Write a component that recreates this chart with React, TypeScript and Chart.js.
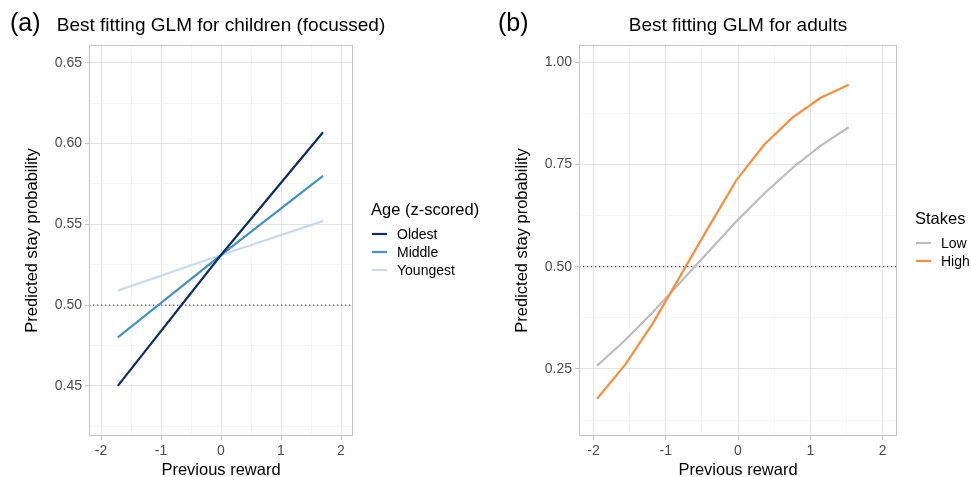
import React, { useEffect, useRef } from "react";
import { Chart, registerables } from "chart.js";

Chart.register(...registerables);

const FONT = '"Liberation Sans", Arial, Helvetica, sans-serif';

// ---------- Panel (a): children ----------
const childX = [-1.72, 0, 1.7];
const oldest = [0.45, 0.531, 0.607];
const middle = [0.48, 0.531, 0.58];
const youngest = [0.509, 0.531, 0.552];
const childYTicks = [0.45, 0.5, 0.55, 0.6, 0.65];
const childYRange = [0.419, 0.661];

// ---------- Panel (b): adults ----------
const adultX = [-1.95, -1.563, -1.176, -0.79, -0.403, -0.016, 0.371, 0.758, 1.145, 1.532];
const lowStakes = [0.258, 0.32, 0.389, 0.463, 0.538, 0.612, 0.68, 0.742, 0.796, 0.841];
const highStakes = [0.177, 0.26, 0.362, 0.48, 0.598, 0.713, 0.8, 0.865, 0.913, 0.945];
const adultYTicks = [0.25, 0.5, 0.75, 1.0];
const adultYRange = [0.086, 1.042];

// ---------- shared ----------
const rewardTicks = [-2, -1, 0, 1, 2];
const rewardRange = [-2.2, 2.2];
const chanceLevel = 0.5;

const COLORS = {
  oldest: "#0b2d69",
  middle: "#4292c6",
  youngest: "#c6dbef",
  low: "#bdbdbd",
  high: "#fd8d3c",
};

function withMinors(majors: number[], range: number[]) {
  const step = majors[1] - majors[0];
  const out: number[] = [];
  const first = majors[0] - step / 2;
  if (first >= range[0]) out.push(first);
  majors.forEach((m, i) => {
    out.push(m);
    const mid = m + step / 2;
    if (i < majors.length - 1 || mid <= range[1]) out.push(mid);
  });
  return out.filter((v) => v >= range[0] && v <= range[1]);
}

function isIn(list: number[], v: number) {
  return list.some((m) => Math.abs(m - v) < 1e-9);
}

function axis(o: {
  horizontal: boolean;
  majors: number[];
  range: number[];
  fmt: (v: number) => string;
  title: string;
  size: number;
}) {
  const all = withMinors(o.majors, o.range);
  return {
    type: "linear",
    position: o.horizontal ? "bottom" : "left",
    min: o.range[0],
    max: o.range[1],
    afterBuildTicks: (s: any) => {
      s.ticks = all.map((v) => ({ value: v }));
    },
    afterFit: (s: any) => {
      if (o.horizontal) s.height = o.size;
      else s.width = o.size;
    },
    ticks: {
      autoSkip: false,
      maxRotation: 0,
      minRotation: 0,
      padding: 3,
      color: "#4d4d4d",
      font: { family: FONT, size: 14 },
      callback: (v: number) => (isIn(o.majors, v) ? o.fmt(v) : ""),
    },
    grid: {
      drawTicks: true,
      tickLength: 4,
      lineWidth: (c: any) => (c.tick && isIn(o.majors, c.tick.value) ? 1 : 0.8),
      color: (c: any) => (c.tick && isIn(o.majors, c.tick.value) ? "#e4e4e4" : "#f2f2f2"),
      tickColor: (c: any) => (c.tick && isIn(o.majors, c.tick.value) ? "#c8c8c8" : "rgba(0,0,0,0)"),
    },
    border: { display: false },
    title: {
      display: true,
      text: o.title,
      color: "#000",
      font: { family: FONT, size: 16.5, lineHeight: 1 },
      padding: o.horizontal ? { top: 0, bottom: -2 } : { top: 24, bottom: 0 },
    },
  };
}

function lineSet(label: string, xs: number[], ys: number[], color: string, order: number) {
  return {
    label,
    data: xs.map((x, i) => ({ x, y: ys[i] })),
    borderColor: color,
    backgroundColor: color,
    borderWidth: 2.2,
    pointRadius: 0,
    tension: 0,
    borderJoinStyle: "round",
    order,
  };
}

function chanceSet() {
  return {
    label: "chance",
    data: rewardRange.map((x) => ({ x, y: chanceLevel })),
    borderColor: "#555555",
    borderWidth: 1.2,
    borderDash: [1.3, 2.7],
    pointRadius: 0,
    order: 10,
  };
}

type Leg = { title: string; items: { label: string; color: string }[]; x: number; titleY: number; rowY: number[] };

function decor(tag: string, tagX: number, title: string, leg: Leg) {
  return {
    id: "decor",
    afterDraw(chart: any) {
      const { ctx, chartArea: ca } = chart;
      ctx.save();
      ctx.strokeStyle = "#c4c4c4";
      ctx.lineWidth = 1;
      ctx.strokeRect(ca.left + 0.5, ca.top + 0.5, ca.right - ca.left - 1, ca.bottom - ca.top - 1);

      ctx.fillStyle = "#000";
      ctx.textBaseline = "alphabetic";
      ctx.textAlign = "left";
      ctx.font = `25px ${FONT}`;
      ctx.fillText(tag, tagX, 31);
      ctx.textAlign = "center";
      ctx.font = `19px ${FONT}`;
      ctx.fillText(title, (ca.left + ca.right) / 2, 31);

      ctx.textAlign = "left";
      ctx.font = `16.5px ${FONT}`;
      ctx.fillText(leg.title, leg.x, leg.titleY);
      ctx.font = `14px ${FONT}`;
      leg.items.forEach((it, i) => {
        const y = leg.rowY[i];
        ctx.strokeStyle = it.color;
        ctx.lineWidth = 2.2;
        ctx.beginPath();
        ctx.moveTo(leg.x + 1, y);
        ctx.lineTo(leg.x + 16, y);
        ctx.stroke();
        ctx.fillStyle = "#000";
        ctx.fillText(it.label, leg.x + 26, y + 5);
      });
      ctx.restore();
    },
  };
}

function configA(): any {
  return {
    type: "line",
    data: {
      datasets: [
        lineSet("Oldest", childX, oldest, COLORS.oldest, 1),
        lineSet("Middle", childX, middle, COLORS.middle, 2),
        lineSet("Youngest", childX, youngest, COLORS.youngest, 3),
        chanceSet(),
      ],
    },
    options: {
      responsive: false,
      animation: false,
      layout: { padding: { left: 0, top: 45, right: 137, bottom: 0 } },
      plugins: { legend: { display: false }, title: { display: false }, tooltip: { enabled: false } },
      scales: {
        x: axis({ horizontal: true, majors: rewardTicks, range: rewardRange, fmt: (v) => String(v), title: "Previous reward", size: 41 }),
        y: axis({ horizontal: false, majors: childYTicks, range: childYRange, fmt: (v) => v.toFixed(2), title: "Predicted stay probability", size: 89 }),
      },
    },
    plugins: [
      decor("(a)", 10, "Best fitting GLM for children (focussed)", {
        title: "Age (z-scored)",
        x: 371,
        titleY: 215,
        rowY: [234, 252, 270],
        items: [
          { label: "Oldest", color: COLORS.oldest },
          { label: "Middle", color: COLORS.middle },
          { label: "Youngest", color: COLORS.youngest },
        ],
      }),
    ],
  };
}

function configB(): any {
  return {
    type: "line",
    data: {
      datasets: [
        lineSet("High", adultX, highStakes, COLORS.high, 1),
        lineSet("Low", adultX, lowStakes, COLORS.low, 2),
        chanceSet(),
      ],
    },
    options: {
      responsive: false,
      animation: false,
      layout: { padding: { left: 0, top: 45, right: 74, bottom: 0 } },
      plugins: { legend: { display: false }, title: { display: false }, tooltip: { enabled: false } },
      scales: {
        x: axis({ horizontal: true, majors: rewardTicks, range: rewardRange, fmt: (v) => String(v), title: "Previous reward", size: 41 }),
        y: axis({ horizontal: false, majors: adultYTicks, range: adultYRange, fmt: (v) => v.toFixed(2), title: "Predicted stay probability", size: 89 }),
      },
    },
    plugins: [
      decor("(b)", 8, "Best fitting GLM for adults", {
        title: "Stakes",
        x: 425,
        titleY: 224,
        rowY: [243, 261],
        items: [
          { label: "Low", color: COLORS.low },
          { label: "High", color: COLORS.high },
        ],
      }),
    ],
  };
}

export default function App() {
  const refA = useRef<HTMLCanvasElement>(null);
  const refB = useRef<HTMLCanvasElement>(null);
  useEffect(() => {
    const a = new Chart(refA.current as HTMLCanvasElement, configA());
    const b = new Chart(refB.current as HTMLCanvasElement, configB());
    return () => {
      a.destroy();
      b.destroy();
    };
  }, []);
  return (
    <div style={{ position: "fixed", left: 0, top: 0, width: 971, height: 477, background: "#fff", overflow: "hidden" }}>
      <canvas ref={refA} width={490} height={477} style={{ position: "absolute", left: 0, top: 0, width: 490, height: 477 }} />
      <canvas ref={refB} width={481} height={477} style={{ position: "absolute", left: 490, top: 0, width: 481, height: 477 }} />
    </div>
  );
}
